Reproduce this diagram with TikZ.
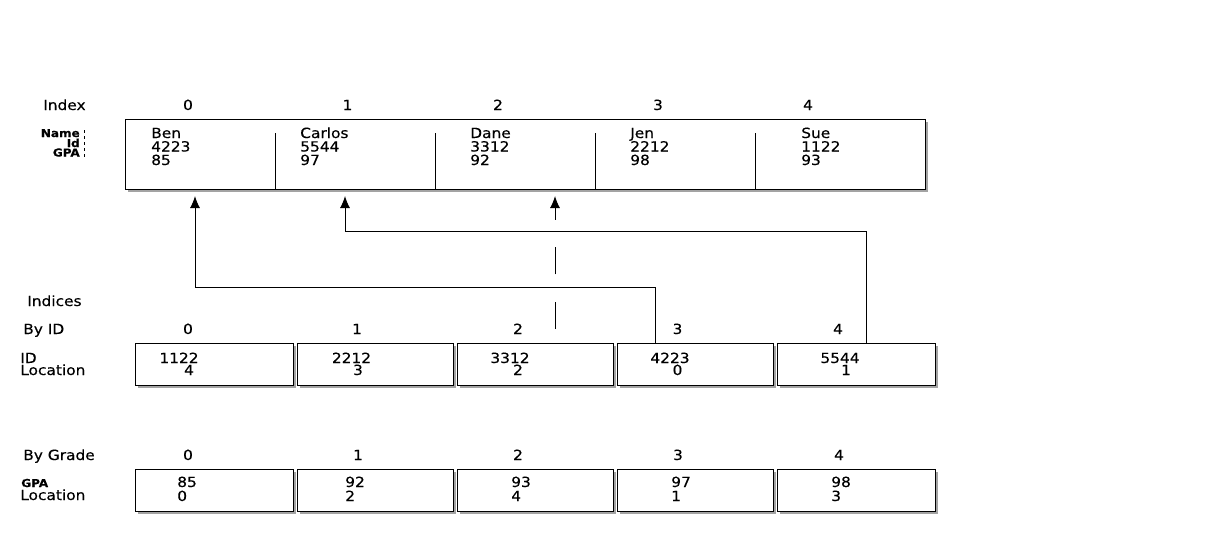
\documentclass[tikz,border=0pt]{standalone}
\usepackage{fontspec}
\setmainfont{DejaVu Sans}
\newfontfamily\djw[FakeStretch=1.1,FakeBold=0.3]{DejaVu Sans}
\usetikzlibrary{arrows.meta,shadows}
\begin{document}
\begin{tikzpicture}[x=0.75pt,y=-0.75pt,
  txt/.style={inner sep=0pt, font=\djw\fontsize{10.5}{12}\selectfont},
  lab/.style={inner sep=0pt, font=\djw\fontsize{8.2}{9}\selectfont\bfseries},
  cellbox/.style={draw, line width=0.75pt, fill=white, inner sep=0pt,
    drop shadow={shadow xshift=2.2pt, shadow yshift=-2.2pt, fill=black!60, opacity=0.6}},
  divider/.style={line width=0.75pt},
  arr/.style={line width=0.75pt, -{Latex[length=9pt,width=7.5pt]}},
]
\useasboundingbox (0,0) rectangle (1210,546);
\fill[white] (0,0) rectangle (1210,546);

% ---------- top record array ----------
\node[cellbox, anchor=north west, minimum width=600pt, minimum height=52.5pt] (rec) at (125,119) {};
\foreach \x in {275,435,595,755} \draw[divider] (\x,133) -- (\x,189);

\node[txt, anchor=base west] (idxlab) at (43,110) {Index};
\foreach \i/\x in {0/188,1/347.5,2/498,3/658,4/808}
  \node[txt, anchor=base] (ti\i) at (\x,110) {\i};

\node[lab, anchor=base east] (lname) at (80,137) {Name};
\node[lab, anchor=base east] (lid) at (80,147) {Id};
\node[lab, anchor=base east] (lgpa) at (80,156.5) {GPA};
\draw[dash pattern=on 2.5pt off 2pt, line width=0.6pt] (84,130) -- (84,158);

\foreach \x/\n/\d/\g [count=\k] in {151/Ben/4223/85, 300/Carlos/5544/97, 470/Dane/3312/92, 630/Jen/2212/98, 801/Sue/1122/93} {
  \node[txt, anchor=base west] (rn\k) at (\x,138) {\n};
  \node[txt, anchor=base west] (rd\k) at (\x,151.5) {\d};
  \node[txt, anchor=base west] (rg\k) at (\x,165) {\g};
}

% ---------- indices by ID ----------
\node[txt, anchor=base west] (indices) at (27,306) {Indices};
\node[txt, anchor=base west] (byid) at (23,334) {By ID};
\foreach \i/\x in {0/188,1/357,2/518,3/677.5,4/838}
  \node[txt, anchor=base] (bi\i) at (\x,334) {\i};
\node[txt, anchor=base west] (lidb) at (20,363) {ID};
\node[txt, anchor=base west] (llocb) at (20,375) {Location};

\foreach \i/\x/\w in {0/135/158, 1/297/156, 2/457/156, 3/617/156, 4/777/158}
  \node[cellbox, anchor=north west, minimum width=\w*0.75pt, minimum height=31.5pt] (id\i) at (\x,343) {};

\foreach \a/\v/\b/\l [count=\k] in {179/1122/189/4, 351.5/2212/358/3, 510/3312/518/2, 670/4223/677.5/0, 840/5544/846/1} {
  \node[txt, anchor=base] (iv\k) at (\a,363) {\v};
  \node[txt, anchor=base] (il\k) at (\b,375) {\l};
}

% ---------- indices by grade ----------
\node[txt, anchor=base west] (bygrade) at (23,460) {By Grade};
\foreach \i/\x in {0/188,1/358,2/518,3/678,4/839}
  \node[txt, anchor=base] (bg\i) at (\x,460) {\i};
\node[lab, anchor=base west] (lgpag) at (21,487) {GPA};
\node[txt, anchor=base west] (llocg) at (20,500) {Location};

\foreach \i/\x/\w in {0/135/158, 1/297/156, 2/457/156, 3/617/156, 4/777/158}
  \node[cellbox, anchor=north west, minimum width=\w*0.75pt, minimum height=31.5pt] (g\i) at (\x,469) {};

\foreach \x/\v/\l [count=\k] in {177/85/0, 345/92/2, 511/93/4, 671/97/1, 831/98/3} {
  \node[txt, anchor=base west] (gv\k) at (\x,487) {\v};
  \node[txt, anchor=base west] (gl\k) at (\x,501) {\l};
}

% ---------- connectors ----------
\coordinate (tip0) at (195,196);
\coordinate (tip1) at (345,196);
\coordinate (tip2) at (555,196);
\coordinate (dstart) at (555,329);
\draw[arr] ([xshift=-30pt]id3.north) -- ++(0,-56) -| (tip0);
\draw[arr] ([xshift=7.3pt]id4.north) -- ++(0,-112) -| (tip1);
\draw[arr, dash pattern=on 20.5pt off 20.5pt] (dstart) -- (tip2);
\end{tikzpicture}
\end{document}
